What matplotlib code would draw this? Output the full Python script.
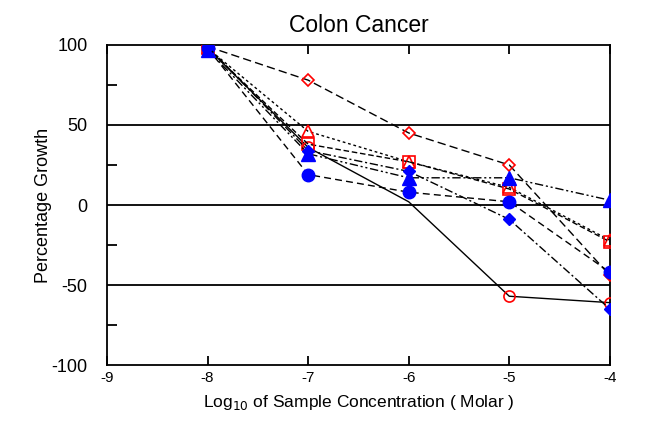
#!/usr/bin/env python
# Dose-response plot, colon cancer panel
import matplotlib
matplotlib.use('Agg')
from matplotlib import pyplot as plt
from matplotlib.ticker import MultipleLocator

plt.rcParams['font.family'] = ['Liberation Sans', 'DejaVu Sans']
plt.rcParams['axes.unicode_minus'] = False

log_conc = [-8, -7, -6, -5, -4]

red_diamond = [99, 78, 45, 25, -44]
red_triangle = [98, 46, 27, 11, -22]
red_square = [98, 38, 27, 10, -23]
red_circle = [98, 36, 2, -57, -61]
blue_circle = [98, 19, 8, 2, -42]
blue_triangle = [97, 32, 17, 17, 3]
blue_diamond = [99, 34, 21, -9, -65]

fig = plt.figure(figsize=(6.66, 4.24), dpi=100)
ax = fig.add_axes([0.1607, 0.139, 0.755, 0.755])

for yv in [50, 0, -50]:
    ax.axhline(yv, color='black', lw=1.3, zorder=1)

ms = 8
# the -6 marker of this series is not shown in the original
ax.plot(log_conc, red_circle, '-', color='black', lw=1, marker='o', ms=ms,
        mec='red', mfc='none', mew=1.2, markevery=[0, 1, 3, 4], zorder=3)
ax.plot(log_conc, red_diamond, color='black', lw=1, ls=(0, (6, 3)), marker='D', ms=6.5,
        mec='red', mfc='none', mew=1.2, zorder=3)
ax.plot(log_conc, red_triangle, color='black', lw=1, ls=(0, (2, 2)), marker='^', ms=ms + 1,
        mec='red', mfc='none', mew=1.2, zorder=3)
ax.plot(log_conc, red_square, color='black', lw=1, ls=(0, (4, 2)), marker='s', ms=ms,
        mec='red', mfc='none', mew=1.2, zorder=3)
ax.plot(log_conc, blue_circle, color='black', lw=1, ls=(0, (5, 3)), marker='o', ms=9,
        mec='blue', mfc='blue', zorder=3)
ax.plot(log_conc, blue_triangle, color='black', lw=1, ls=(0, (6, 2, 1.5, 2, 1.5, 2)),
        marker='^', ms=9.5, mec='blue', mfc='blue', zorder=3)
ax.plot(log_conc, blue_diamond, color='black', lw=1, ls=(0, (6, 2, 1.5, 2)),
        marker='D', ms=6.5, mec='blue', mfc='blue', zorder=3)

ax.set_xlim(-9, -4)
ax.set_ylim(-100, 100)
ax.xaxis.set_major_locator(MultipleLocator(1))
ax.yaxis.set_major_locator(MultipleLocator(50))
ax.yaxis.set_minor_locator(MultipleLocator(25))
ax.tick_params(axis='x', direction='in', top=True, length=6.5, width=1.3,
               labelsize=11, pad=4)
ax.tick_params(axis='y', which='major', direction='in', length=0, labelsize=13, pad=14)
ax.tick_params(axis='y', which='minor', direction='in', length=7, width=1.3)
for s in ax.spines.values():
    s.set_linewidth(1.3)

ax.set_title('Colon Cancer', fontsize=16.5, pad=9)
ax.set_xlabel(r'Log$_{10}$ of Sample Concentration ( Molar )', fontsize=12.5, labelpad=6)
ax.set_ylabel('Percentage Growth', fontsize=13)
ax.yaxis.set_label_coords(-0.109, 0.5)

fig.savefig('out.png', dpi=100)
